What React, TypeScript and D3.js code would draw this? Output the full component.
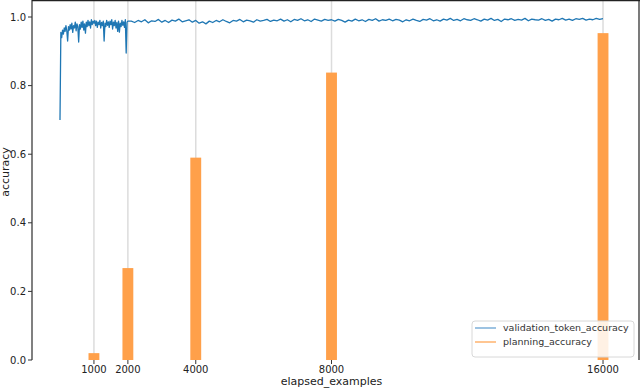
import React from 'react';
import * as d3 from 'd3';

// planning accuracy, one bar per checkpoint
const checkpoints = [1000, 2000, 4000, 8000, 16000];
const planningAccuracy = [0.02, 0.268, 0.59, 0.838, 0.953];

// validation token accuracy, first 2000 examples (every 25 examples)
const earlyStep = 25;
const earlyAccuracy = [
  0.70, 0.955, 0.94, 0.962, 0.95, 0.968, 0.958, 0.975, 0.96, 0.93,
  0.972, 0.962, 0.978, 0.965, 0.982, 0.955, 0.975, 0.968, 0.985, 0.96,
  0.98, 0.972, 0.927, 0.978, 0.965, 0.985, 0.97, 0.988, 0.962, 0.98,
  0.953, 0.985, 0.972, 0.99, 0.975, 0.986, 0.968, 0.992, 0.978, 0.988,
  0.982, 0.99, 0.975, 0.988, 0.97, 0.985, 0.978, 0.99, 0.968, 0.984,
  0.975, 0.988, 0.93, 0.982, 0.972, 0.99, 0.976, 0.986, 0.97, 0.988,
  0.978, 0.992, 0.965, 0.985, 0.975, 0.99, 0.968, 0.984, 0.958, 0.988,
  0.956, 0.982, 0.972, 0.99, 0.976, 0.986, 0.97, 0.992, 0.895, 0.985,
  0.988,
];

// after 2000 examples (every 100 examples, from 2100)
const lateStart = 2100;
const lateStep = 100;
const lateAccuracy = [
  0.988, 0.984, 0.990, 0.986, 0.992, 0.983, 0.989, 0.987, 0.993, 0.985,
  0.990, 0.984, 0.991, 0.988, 0.994, 0.986, 0.989, 0.992, 0.985, 0.990,
  0.982, 0.986, 0.980, 0.988, 0.984, 0.990, 0.986, 0.992, 0.987, 0.983,
  0.990, 0.988, 0.993, 0.986, 0.991, 0.989, 0.985, 0.992, 0.988, 0.990,
  0.993, 0.987, 0.991, 0.989, 0.994, 0.988, 0.992, 0.986, 0.993, 0.990,
  0.995, 0.989, 0.992, 0.987, 0.994, 0.991, 0.988, 0.993, 0.990, 0.992,
  0.988, 0.993, 0.990, 0.985, 0.991, 0.988, 0.994, 0.989, 0.992, 0.987,
  0.993, 0.990, 0.995, 0.988, 0.992, 0.990, 0.994, 0.989, 0.993, 0.991,
  0.986, 0.992, 0.989, 0.994, 0.990, 0.987, 0.993, 0.991, 0.995, 0.989,
  0.992, 0.988, 0.994, 0.991, 0.996, 0.990, 0.993, 0.989, 0.995, 0.992,
  0.990, 0.995, 0.992, 0.988, 0.994, 0.991, 0.996, 0.990, 0.993, 0.987,
  0.994, 0.992, 0.995, 0.990, 0.993, 0.991, 0.996, 0.989, 0.994, 0.992,
  0.991, 0.995, 0.990, 0.993, 0.988, 0.994, 0.992, 0.996, 0.991, 0.994,
  0.990, 0.995, 0.993, 0.996, 0.991, 0.994, 0.992, 0.996, 0.993, 0.995,
];

const yTicks = [0, 0.2, 0.4, 0.6, 0.8, 1.0];

const width = 640;
const height = 388;
const font = 'DejaVu Sans, sans-serif';

export default function App() {
  const x = d3.scaleLinear().domain([-825, 17060]).range([32, 639]);
  const y = d3.scaleLinear().domain([0, 1.0496]).range([360, 0]);

  const points: [number, number][] = [
    ...earlyAccuracy.map((v, i) => [i * earlyStep, v] as [number, number]),
    ...lateAccuracy.map((v, i) => [lateStart + i * lateStep, v] as [number, number]),
  ];
  const line = d3
    .line<[number, number]>()
    .x(d => x(d[0]))
    .y(d => y(d[1]));

  const barHalf = 160;

  return (
    <svg width={width} height={height} style={{ position: 'absolute', left: 0, top: 0 }} fontFamily={font}>
      <rect x={0} y={0} width={width} height={height} fill="#fff" />

      {/* grid */}
      {checkpoints.map(c => (
        <line key={'g' + c} x1={x(c)} x2={x(c)} y1={0} y2={360} stroke="#dcdcdc" strokeWidth={1.5} />
      ))}

      {/* bars */}
      {checkpoints.map((c, i) => (
        <rect
          key={'b' + c}
          x={x(c - barHalf)}
          y={y(planningAccuracy[i])}
          width={x(c + barHalf) - x(c - barHalf)}
          height={y(0) - y(planningAccuracy[i])}
          fill="#ffa04a"
        />
      ))}

      {/* validation line */}
      <path d={line(points) || ''} fill="none" stroke="#1f77b4" strokeWidth={1.3} strokeLinejoin="round" />

      {/* spines */}
      <line x1={32} x2={32} y1={0} y2={360} stroke="#808080" strokeWidth={2} />
      <line x1={32} x2={640} y1={0.5} y2={0.5} stroke="#222" strokeWidth={1.5} />
      <line x1={639} x2={639} y1={0} y2={360} stroke="#222" strokeWidth={1.2} />

      {/* y ticks */}
      {yTicks.map(t => (
        <g key={'y' + t}>
          <line x1={28} x2={32} y1={y(t)} y2={y(t)} stroke="#333" />
          <text x={26} y={y(t)} dy="0.35em" textAnchor="end" fontSize={10} fill="#222">
            {t.toFixed(1)}
          </text>
        </g>
      ))}

      {/* x ticks */}
      {checkpoints.map(c => (
        <g key={'x' + c}>
          <line x1={x(c)} x2={x(c)} y1={360} y2={364} stroke="#333" />
          <text x={x(c)} y={373} textAnchor="middle" fontSize={10} fill="#222">
            {c}
          </text>
        </g>
      ))}

      <text x={(32 + 639) / 2 - 4} y={385} textAnchor="middle" fontSize={11} fill="#222">
        elapsed_examples
      </text>
      <text
        transform={`translate(9,172) rotate(-90)`}
        textAnchor="middle"
        fontSize={11}
        fill="#222"
      >
        accuracy
      </text>

      {/* legend */}
      <g>
        <rect x={472} y={321} width={162} height={36} rx={3} fill="#fff" fillOpacity={0.85} stroke="#d8d8d8" />
        <line x1={475} x2={496} y1={328} y2={328} stroke="#5d9ccf" strokeWidth={1.2} />
        <text x={503} y={328} dy="0.35em" fontSize={9.5} fill="#333">
          validation_token_accuracy
        </text>
        <line x1={475} x2={496} y1={342} y2={342} stroke="#ffa04a" strokeWidth={1.2} />
        <text x={503} y={342} dy="0.35em" fontSize={9.5} fill="#333">
          planning_accuracy
        </text>
      </g>
    </svg>
  );
}
